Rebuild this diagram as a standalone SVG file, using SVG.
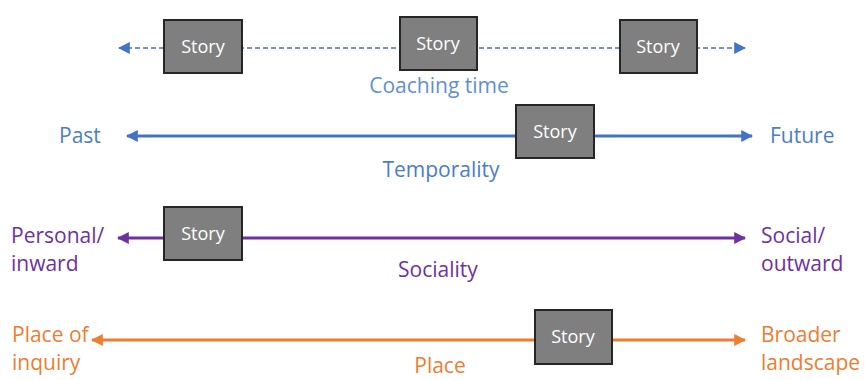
<svg xmlns="http://www.w3.org/2000/svg" width="865" height="380" viewBox="0 0 865 380">
  <style>
    text { font-family: "Open Sans", "Noto Sans", sans-serif; }
    .box rect { fill: #7f7f7f; stroke: #262626; stroke-width: 2; }
    .box text { fill: #ffffff; font-size: 18px; text-anchor: middle; }
    .lbl { font-size: 21px; }
    .blue { fill: #4a7dcc; }
    .lblue { fill: #5f8fd6; }
    .purple { fill: #7030a0; }
    .orange { fill: #ed7d31; }
    .mid { text-anchor: middle; }
  </style>
  <defs>
    <marker id="ahB" viewBox="0 0 10 10" refX="9" refY="5" markerWidth="4" markerHeight="4" orient="auto-start-reverse" markerUnits="strokeWidth">
      <path d="M0,0 L10,5 L0,10 z" fill="#4472c4"/>
    </marker>
    <marker id="ahBd" viewBox="0 0 10 10" refX="9" refY="5" markerWidth="8" markerHeight="8" orient="auto-start-reverse" markerUnits="strokeWidth">
      <path d="M0,0 L10,5 L0,10 z" fill="#4472c4"/>
    </marker>
    <marker id="ahP" viewBox="0 0 10 10" refX="9" refY="5" markerWidth="4" markerHeight="4" orient="auto-start-reverse" markerUnits="strokeWidth">
      <path d="M0,0 L10,5 L0,10 z" fill="#7030a0"/>
    </marker>
    <marker id="ahO" viewBox="0 0 10 10" refX="9" refY="5" markerWidth="4" markerHeight="4" orient="auto-start-reverse" markerUnits="strokeWidth">
      <path d="M0,0 L10,5 L0,10 z" fill="#ed7d31"/>
    </marker>
  </defs>

  <g id="connectors">
    <line x1="119" y1="48" x2="745" y2="48" stroke="#4472c4" stroke-width="1.5" stroke-dasharray="5,3" marker-start="url(#ahBd)" marker-end="url(#ahBd)"/>
    <line x1="127" y1="136" x2="752" y2="136" stroke="#4472c4" stroke-width="3" marker-start="url(#ahB)" marker-end="url(#ahB)"/>
    <line x1="118" y1="238" x2="745" y2="238" stroke="#7030a0" stroke-width="3" marker-start="url(#ahP)" marker-end="url(#ahP)"/>
    <line x1="92" y1="340" x2="745" y2="340" stroke="#ed7d31" stroke-width="3" marker-start="url(#ahO)" marker-end="url(#ahO)"/>
  </g>

  <g id="story-coaching-1" class="box"><rect x="164" y="20" width="78" height="53"/><text x="203" y="53">Story</text></g>
  <g id="story-coaching-2" class="box"><rect x="400" y="17" width="77" height="53"/><text x="438" y="50">Story</text></g>
  <g id="story-coaching-3" class="box"><rect x="620" y="20" width="77" height="53"/><text x="658" y="53">Story</text></g>
  <g id="story-temporality" class="box"><rect x="516" y="105" width="78" height="53"/><text x="555" y="138">Story</text></g>
  <g id="story-sociality" class="box"><rect x="164" y="207" width="78" height="53"/><text x="203" y="240">Story</text></g>
  <g id="story-place" class="box"><rect x="535" y="310" width="77" height="54"/><text x="573" y="343">Story</text></g>

  <g id="labels">
    <text class="lbl lblue mid" x="439" y="93">Coaching time</text>
    <text class="lbl blue" x="59" y="143">Past</text>
    <text class="lbl blue" x="770" y="143">Future</text>
    <text class="lbl blue mid" x="441" y="177">Temporality</text>
    <text class="lbl purple" x="11" y="243">Personal/</text>
    <text class="lbl purple" x="11" y="271">inward</text>
    <text class="lbl purple" x="761" y="243">Social/</text>
    <text class="lbl purple" x="761" y="271">outward</text>
    <text class="lbl purple mid" x="438" y="277">Sociality</text>
    <text class="lbl orange" x="12" y="342">Place of</text>
    <text class="lbl orange" x="12" y="370">inquiry</text>
    <text class="lbl orange" x="761" y="342">Broader</text>
    <text class="lbl orange" x="761" y="370">landscape</text>
    <text class="lbl orange mid" x="440" y="373">Place</text>
  </g>
</svg>
